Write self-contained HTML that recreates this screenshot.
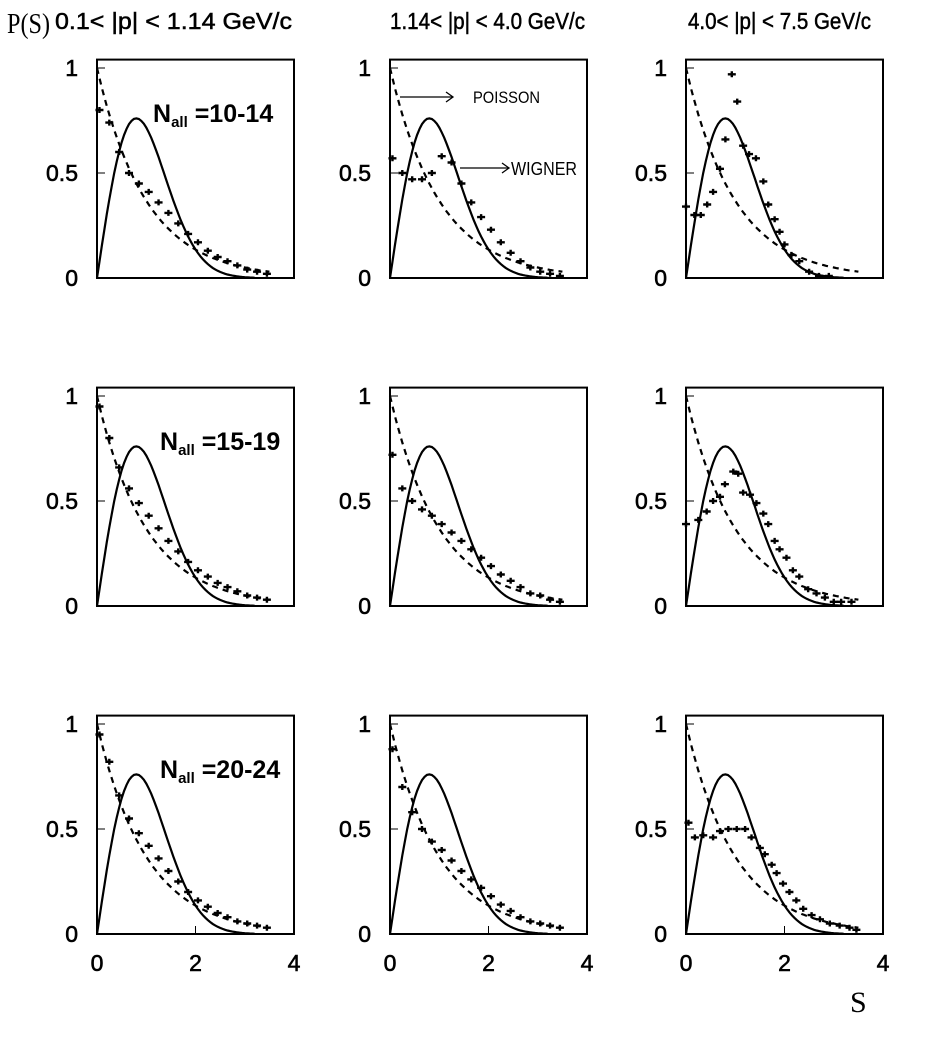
<!DOCTYPE html>
<html><head><meta charset="utf-8"><style>
body{margin:0;background:#fff;}
svg text{font-family:"Liberation Sans",sans-serif;}
</style></head><body>
<svg id="c" width="929" height="1033" xmlns="http://www.w3.org/2000/svg">
<text x="7" y="33" style="font-family:'Liberation Serif',serif" font-size="28" textLength="43" lengthAdjust="spacingAndGlyphs">P(S)</text>
<text x="55" y="29" font-size="23" stroke="#000" stroke-width="0.5" textLength="237" lengthAdjust="spacingAndGlyphs">0.1&lt; |p| &lt; 1.14 GeV/c</text>
<text x="390" y="29" font-size="23" stroke="#000" stroke-width="0.5" textLength="195" lengthAdjust="spacingAndGlyphs">1.14&lt; |p| &lt; 4.0 GeV/c</text>
<text x="688" y="29" font-size="23" stroke="#000" stroke-width="0.5" textLength="183" lengthAdjust="spacingAndGlyphs">4.0&lt; |p| &lt; 7.5 GeV/c</text>
<text x="850" y="1012" style="font-family:'Liberation Serif',serif" font-size="30">S</text>
<text x="153" y="122" font-size="25" font-weight="bold">N<tspan font-size="15" dy="5">all</tspan><tspan dy="-5"> =10-14</tspan></text>
<text x="160" y="450" font-size="25" font-weight="bold">N<tspan font-size="15" dy="5">all</tspan><tspan dy="-5"> =15-19</tspan></text>
<text x="160" y="778" font-size="25" font-weight="bold">N<tspan font-size="15" dy="5">all</tspan><tspan dy="-5"> =20-24</tspan></text>
<g>
<line x1="400" y1="97" x2="452" y2="97" stroke="#000" stroke-width="1.3"/>
<path d="M446 92 L453 97 L446 102" fill="none" stroke="#000" stroke-width="1.3"/>
<text x="473" y="103" font-size="17" textLength="67" lengthAdjust="spacingAndGlyphs">POISSON</text></g>
<g>
<line x1="460" y1="168" x2="508" y2="168" stroke="#000" stroke-width="1.3"/>
<path d="M502 163 L509 168 L502 173" fill="none" stroke="#000" stroke-width="1.3"/>
<text x="511" y="175" font-size="18" textLength="66" lengthAdjust="spacingAndGlyphs">WIGNER</text></g>
</svg>
<script>
const colX0 = [97, 390, 686];
const rowY0 = [278, 606, 934];
const yTickLabels = ["0", "0.5", "1"];
const yTickVals = [0, 0.5, 1];
const xTickLabels = ["0", "2", "4"];
const xTickVals = [0, 2, 4];
const s_p1 = [0.05,0.25,0.45,0.65,0.85,1.05,1.25,1.45,1.65,1.85,2.05,2.25,2.45,2.65,2.85,3.05,3.25,3.45];
const p_p1 = [0.8,0.74,0.6,0.5,0.45,0.41,0.36,0.31,0.26,0.21,0.17,0.13,0.1,0.08,0.06,0.04,0.03,0.02];
const s_p2 = [0.05,0.25,0.45,0.65,0.85,1.05,1.25,1.45,1.65,1.85,2.05,2.25,2.45,2.65,2.85,3.05,3.25,3.45];
const p_p2 = [0.57,0.5,0.47,0.47,0.5,0.58,0.55,0.45,0.36,0.29,0.23,0.17,0.12,0.08,0.05,0.03,0.02,0.01];
const s_p3 = [0,0.17,0.3,0.43,0.55,0.69,0.8,0.93,1.04,1.16,1.28,1.42,1.57,1.67,1.8,1.9,2.0,2.14,2.3,2.5,2.7,2.9];
const p_p3 = [0.34,0.3,0.3,0.35,0.41,0.52,0.66,0.97,0.84,0.63,0.59,0.57,0.46,0.35,0.28,0.22,0.16,0.11,0.08,0.03,0.01,0.01];
const s_p4 = [0.05,0.25,0.45,0.65,0.85,1.05,1.25,1.45,1.65,1.85,2.05,2.25,2.45,2.65,2.85,3.05,3.25,3.45];
const p_p4 = [0.95,0.8,0.66,0.56,0.49,0.43,0.37,0.31,0.26,0.21,0.17,0.14,0.11,0.09,0.07,0.05,0.04,0.03];
const s_p5 = [0.05,0.25,0.45,0.65,0.85,1.05,1.25,1.45,1.65,1.85,2.05,2.25,2.45,2.65,2.85,3.05,3.25,3.45];
const p_p5 = [0.72,0.56,0.5,0.46,0.43,0.39,0.35,0.31,0.27,0.23,0.19,0.15,0.12,0.09,0.06,0.05,0.03,0.02];
const s_p6 = [0,0.25,0.42,0.55,0.69,0.79,0.96,1.06,1.16,1.3,1.43,1.57,1.67,1.8,1.9,2.04,2.17,2.3,2.48,2.65,2.82,3.0,3.15,3.36];
const p_p6 = [0.39,0.41,0.45,0.5,0.52,0.58,0.64,0.63,0.54,0.53,0.49,0.44,0.39,0.31,0.27,0.23,0.17,0.14,0.08,0.06,0.04,0.02,0.02,0.02];
const s_p7 = [0.05,0.25,0.45,0.65,0.85,1.05,1.25,1.45,1.65,1.85,2.05,2.25,2.45,2.65,2.85,3.05,3.25,3.45];
const p_p7 = [0.95,0.82,0.66,0.55,0.48,0.42,0.36,0.3,0.25,0.2,0.16,0.13,0.1,0.08,0.06,0.05,0.04,0.03];
const s_p8 = [0.05,0.25,0.45,0.65,0.85,1.05,1.25,1.45,1.65,1.85,2.05,2.25,2.45,2.65,2.85,3.05,3.25,3.45];
const p_p8 = [0.88,0.7,0.58,0.5,0.44,0.4,0.35,0.3,0.26,0.22,0.18,0.14,0.11,0.08,0.06,0.05,0.04,0.03];
const s_p9 = [0.05,0.18,0.35,0.55,0.69,0.86,1.03,1.2,1.33,1.5,1.6,1.74,1.84,1.97,2.1,2.24,2.38,2.55,2.72,2.92,3.12,3.32,3.46];
const p_p9 = [0.53,0.46,0.47,0.46,0.49,0.5,0.5,0.5,0.46,0.41,0.38,0.33,0.29,0.24,0.2,0.16,0.12,0.09,0.07,0.05,0.04,0.03,0.02];
const panelS = [s_p1,s_p2,s_p3,s_p4,s_p5,s_p6,s_p7,s_p8,s_p9];
const panelP = [p_p1,p_p2,p_p3,p_p4,p_p5,p_p6,p_p7,p_p8,p_p9];

const NS = "http://www.w3.org/2000/svg";
const svg = document.getElementById("c");
const XS = 49.25, YS = 210;
function mk(tag, attrs){const e=document.createElementNS(NS,tag);for(const k in attrs)e.setAttribute(k,attrs[k]);return e;}
for(let r=0;r<3;r++){for(let c=0;c<3;c++){
  const i=r*3+c;
  const x0=colX0[c], y0=rowY0[r];
  const sx=v=>x0+v*XS, sy=v=>y0-v*YS;
  const g=mk("g",{});
  
  
  svg.appendChild(g);
  const box=mk("rect",{x:sx(0),y:sy(1.04),width:4*XS,height:1.04*YS,fill:"none",stroke:"#000","stroke-width":2});
  
  
  g.appendChild(box);
  yTickVals.forEach((v,k)=>{
    const t=mk("text",{x:x0-19,y:sy(v)+8,"text-anchor":"end","font-size":23,fill:"#000",stroke:"#000","stroke-width":0.6});
    
    
    t.textContent=yTickLabels[k];g.appendChild(t);
    g.appendChild(mk("line",{x1:sx(0),x2:sx(0)+8,y1:sy(v),y2:sy(v),stroke:"#000","stroke-width":1}));
  });
  if(r===2){xTickVals.forEach((v,k)=>{
    const t=mk("text",{x:sx(v),y:y0+37,"text-anchor":"middle","font-size":23,fill:"#000",stroke:"#000","stroke-width":0.6});
    
    
    t.textContent=xTickLabels[k];g.appendChild(t);
    g.appendChild(mk("line",{x1:sx(v),x2:sx(v),y1:y0,y2:y0-8,stroke:"#000","stroke-width":1}));
  });}
  let dp="",dw="";
  for(let k=0;k<=70;k++){const s=k*0.05;dp+=(k?"L":"M")+sx(s).toFixed(1)+" "+sy(Math.exp(-s)).toFixed(1);}
  for(let k=0;k<=64;k++){const s=k*0.05;const w=Math.PI/2*s*Math.exp(-Math.PI*s*s/4);dw+=(k?"L":"M")+sx(s).toFixed(1)+" "+sy(w).toFixed(1);}
  const pl=mk("path",{d:dp,fill:"none",stroke:"#000","stroke-width":2.2,"stroke-dasharray":"6 5"});
  
  
  g.appendChild(pl);
  const wl=mk("path",{d:dw,fill:"none",stroke:"#000","stroke-width":2.2});
  
  
  g.appendChild(wl);
  const S=panelS[i],P=panelP[i];
  S.forEach((s,k)=>{
    const m=mk("path",{d:`M${sx(s)-4} ${sy(P[k])}h8M${sx(s)} ${sy(P[k])-3}v6`,stroke:"#000","stroke-width":2.4,fill:"none"});
    
    
    g.appendChild(m);
  });
}}
</script>
</body></html>
